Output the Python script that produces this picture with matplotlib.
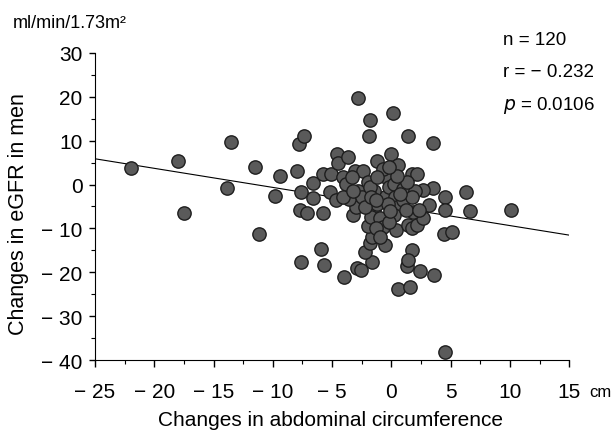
import matplotlib
matplotlib.use("Agg")
import matplotlib.pyplot as plt
import numpy as np
from matplotlib.ticker import MultipleLocator, FuncFormatter

plt.rcParams['font.family'] = ['Liberation Sans', 'DejaVu Sans']

# changes in abdominal circumference (cm)
waist = [
    -22.0, -18.0, -17.5, -13.5, -13.9, -11.5, -11.2, -9.4, -9.8, -8.0,
    -7.8, -7.4, -7.6, -7.6, -7.7, -7.1, -6.6, -6.6, -5.9, -5.7,
    -5.8, -5.8, -5.1, -5.2, -4.6, -4.5, -3.7, -4.7, -4.0, -2.8,
    -2.9, -2.6, -1.8, -1.9, -1.2, 0.1, 0.0, 0.6, 1.4, 3.5,
    1.7, 2.2, 3.5, 2.7, 3.2, 4.5, 4.5, 4.4, 5.1, 6.3,
    6.6, 10.1, 4.5, 3.6, 2.4, 0.6, 1.6, 1.7, 1.3, 1.4,
    -1.6, -2.2, -1.8, -1.6, -0.5, 0.4, 1.4, 1.7, 2.2, 2.7,
    1.8, -2.0, -3.2, -3.0, -3.6, -4.1, -3.8, -3.1, -2.4, -2.8,
    -2.0, -2.5, -1.5, -1.7, -1.0, -0.7, -1.2, -0.5, -0.8, -0.3,
    -0.7, -0.2, 0.2, 0.3, 0.5, 0.2, -0.2, 1.0, 1.0, 2.0,
    1.7, -1.5, -1.8, -1.2, 1.2, -4.1, -3.3, -2.2, 0.7, -0.3,
    -1.3, -1.0, 1.3, 0.5, -0.2, -1.7, 2.3, -1.3, -0.1, -3.2,
]
# changes in eGFR (ml/min/1.73m2)
egfr = [
    3.8, 5.3, -6.5, 9.8, -0.8, 4.1, -11.3, 1.9, -2.6, 3.0,
    9.2, 11.1, -17.7, -1.6, -5.9, -6.4, 0.3, -3.0, -14.6, -18.3,
    -6.4, 2.3, 2.3, -1.6, 6.9, 5.0, 6.2, -3.6, -21.1, 19.8,
    -19.0, -19.5, 14.7, 11.0, 5.4, 16.3, 6.9, 4.4, 11.0, 9.4,
    2.3, 2.3, -0.8, -1.2, -4.6, -2.9, -5.7, -11.3, -10.7, -1.7,
    -6.1, -5.9, -38.2, -20.7, -19.6, -23.7, -23.3, -14.9, -18.5, -17.1,
    -17.7, -15.3, -13.4, -12.0, -13.7, -10.4, -9.2, -10.0, -9.2, -7.7,
    -6.2, -9.5, -7.0, -5.1, -3.2, 1.7, 0.2, 3.2, 3.2, -1.4,
    0.5, -2.9, -5.9, -7.4, -7.7, -9.6, -4.4, -2.9, 2.4, 1.3,
    3.5, -0.6, 0.2, -2.9, -5.1, -7.0, -8.5, -1.0, -3.6, -1.4,
    -2.9, -1.4, -0.6, 1.7, -5.9, -2.9, 1.7, -5.1, -2.1, -4.4,
    -10.0, -11.9, 0.5, 2.0, 3.9, -2.9, -5.9, -3.5, -6.0, -1.4,
]

# regression line
fit_intercept = -5.0
fit_slope = -0.435

x_ticks = [-25, -20, -15, -10, -5, 0, 5, 10, 15]
y_ticks = [-40, -30, -20, -10, 0, 10, 20, 30]


def fmt(v, pos):
    v = int(round(v))
    if v < 0:
        return "\u2212 " + str(-v)
    return str(v)


fig = plt.figure(figsize=(6.15, 4.35), dpi=100)
ax = fig.add_axes([0.1545, 0.170, 0.771, 0.706])

xs = np.array([-25, 15])
ax.plot(xs, fit_intercept + fit_slope * xs, color='black', lw=0.8, zorder=1)
ax.scatter(waist, egfr, s=92, facecolor='#5a5a5a', edgecolor='#1e1e1e',
           linewidths=1.0, zorder=2)

ax.set_xlim(-25, 15)
ax.set_ylim(-40, 30)
ax.spines['top'].set_visible(False)
ax.spines['right'].set_visible(False)
ax.set_xticks(x_ticks)
ax.set_yticks(y_ticks)
ax.xaxis.set_minor_locator(MultipleLocator(2.5))
ax.yaxis.set_minor_locator(MultipleLocator(5))
ax.xaxis.set_major_formatter(FuncFormatter(fmt))
ax.yaxis.set_major_formatter(FuncFormatter(fmt))
ax.tick_params(axis='x', which='major', length=5, width=1, pad=11, labelsize=15)
ax.tick_params(axis='x', which='minor', length=3, width=0.8)
ax.tick_params(axis='y', which='major', length=4, width=1, pad=5, labelsize=15)
ax.tick_params(axis='y', which='minor', length=3, width=0.8)

ax.set_xlabel("Changes in abdominal circumference", fontsize=15, va='center')
ax.set_ylabel("Changes in eGFR in men", fontsize=15.5, va='center')
ax.xaxis.set_label_coords(0.496, -0.195)
ax.yaxis.set_label_coords(-0.162, 0.48)

fig.text(0.02, 0.945, "ml/min/1.73m\u00b2", fontsize=13, va='center', ha='left')
fig.text(0.958, 0.098, "cm", fontsize=12, va='center', ha='left')
fig.text(0.818, 0.908, "n = 120", fontsize=13.5, va='center', ha='left')
fig.text(0.818, 0.834, "r = \u2212 0.232", fontsize=13.5, va='center', ha='left')
fig.text(0.818, 0.758, "$p$ = 0.0106", fontsize=13.5, va='center', ha='left')

fig.savefig("out.png", dpi=100)
